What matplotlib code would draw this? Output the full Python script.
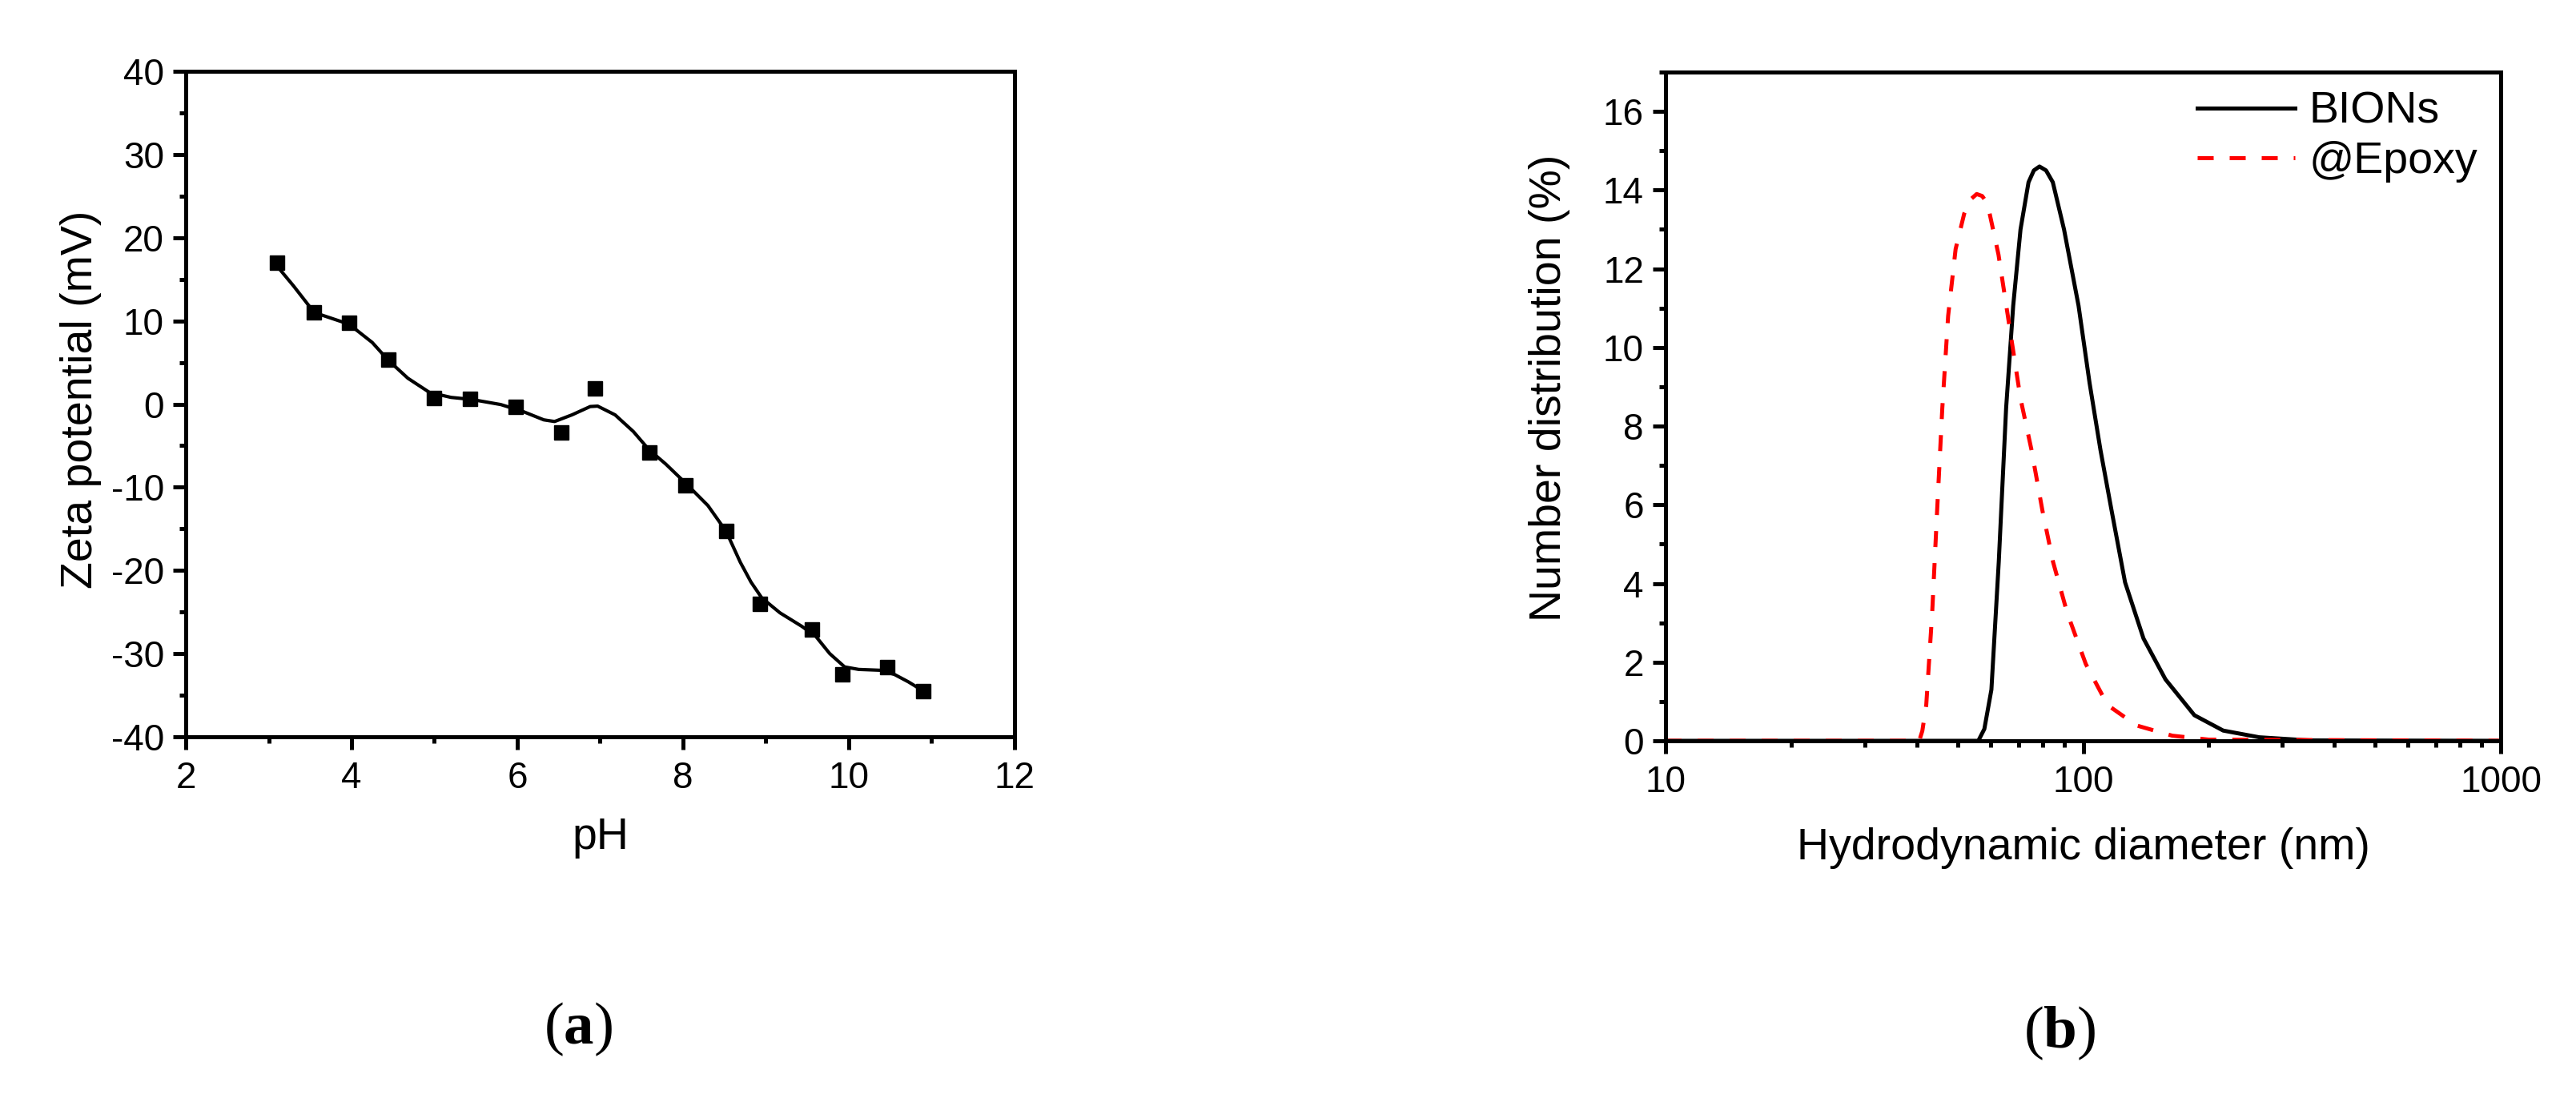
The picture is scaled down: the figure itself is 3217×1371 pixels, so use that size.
#!/usr/bin/env python3
"""Zeta potential vs pH (a) and DLS number distribution (b)."""
import matplotlib
matplotlib.use("Agg")
import matplotlib.pyplot as plt
from matplotlib.ticker import MultipleLocator, LogLocator, FixedLocator, NullFormatter

# (a) measured zeta potential points
PH = [3.10, 3.55, 3.97, 4.44, 5.00, 5.43, 5.98, 6.53, 6.94, 7.59, 8.03,
      8.52, 8.93, 9.56, 9.92, 10.46, 10.90]
ZETA = [17.0, 11.0, 9.8, 5.3, 0.7, 0.6, -0.3, -3.4, 1.9, -5.8, -9.8,
        -15.3, -24.0, -27.1, -32.5, -31.6, -34.5]

# (a) smoothed guide curve
CURVE_PH = [3.10, 3.30, 3.55, 3.97, 4.25, 4.44, 4.68, 4.94, 5.20, 5.45,
            5.80, 6.06, 6.32, 6.45, 6.66, 6.88, 6.97, 7.18, 7.40, 7.59,
            7.79, 8.03, 8.30, 8.52, 8.69, 8.82, 8.95, 9.17, 9.43, 9.60,
            9.77, 9.95, 10.12, 10.38, 10.55, 10.72, 10.90]
CURVE_ZETA = [16.6, 14.2, 11.0, 9.6, 7.4, 5.3, 3.1, 1.4, 0.8, 0.55,
              -0.06, -0.86, -1.9, -2.1, -1.3, -0.3, -0.25, -1.3, -3.3, -5.5,
              -7.2, -9.5, -12.2, -15.3, -19.0, -21.4, -23.3, -25.1, -26.7, -27.9,
              -30.0, -31.6, -31.9, -32.0, -32.5, -33.4, -34.5]

# (b) number distribution
BIONS_D = [10, 56.1, 58.0, 60.3, 62.8, 65.4, 68.0, 70.8, 74.0, 76.2, 78.6,
           81.5, 84.6, 90.0, 97.5, 103.6, 110, 117, 126, 139.5, 157.5, 184.7,
           216.5, 264, 348, 1000]
BIONS_N = [0, 0, 0.3, 1.3, 4.55, 8.46, 11.06, 13.0, 14.2, 14.5, 14.6,
           14.5, 14.2, 13.0, 11.06, 9.1, 7.4, 5.85, 4.03, 2.6, 1.56, 0.65,
           0.26, 0.09, 0.01, 0]
EPOXY_D = [10, 40.5, 41.2, 42.1, 43.5, 44.7, 46.0, 47.5, 49.5, 51.9, 53.6,
           55.6, 57.3, 59.0, 62.7, 66.6, 70.8, 75.2, 79.9, 84.7, 91.6, 101.5,
           114.4, 134.3, 163.5, 200, 1000]
EPOXY_N = [0, 0, 0.25, 0.91, 3.25, 5.85, 8.46, 10.8, 12.5, 13.4, 13.75,
           13.9, 13.85, 13.66, 12.36, 10.54, 8.7, 7.4, 5.85, 4.55, 3.25, 1.95,
           0.91, 0.39, 0.13, 0.03, 0]

plt.rcParams.update({
    "font.family": ["Liberation Sans", "DejaVu Sans"],
    "axes.unicode_minus": False,
    "axes.linewidth": 3.6,
    "xtick.major.width": 3.6,
    "ytick.major.width": 3.6,
    "xtick.minor.width": 3.6,
    "ytick.minor.width": 3.6,
    "xtick.major.size": 11.5,
    "ytick.major.size": 11.5,
    "xtick.minor.size": 6,
    "ytick.minor.size": 6,
    "xtick.major.pad": 10,
    "ytick.major.pad": 8,
    "xtick.labelsize": 33,
    "ytick.labelsize": 33,
    "axes.labelsize": 40,
    "mathtext.fontset": "custom",
    "mathtext.rm": "Liberation Serif",
    "mathtext.bf": "Liberation Serif:bold",
})

W, H = 3217, 1371
fig = plt.figure(figsize=(W / 100, H / 100), dpi=100)


def frac(x0, y0, x1, y1):
    return [x0 / W, 1 - y1 / H, (x1 - x0) / W, (y1 - y0) / H]


# ---- (a) ----
ax1 = fig.add_axes(frac(232, 89, 1267, 920))
ax1.plot(CURVE_PH, CURVE_ZETA, color="black", linewidth=3.0,
         solid_joinstyle="round", solid_capstyle="round")
ax1.plot(PH, ZETA, linestyle="none", marker="s", markersize=13, color="black")
ax1.set_xlim(2, 12)
ax1.set_ylim(-40, 40)
ax1.xaxis.set_major_locator(MultipleLocator(2))
ax1.xaxis.set_minor_locator(MultipleLocator(1))
ax1.yaxis.set_major_locator(MultipleLocator(10))
ax1.yaxis.set_minor_locator(MultipleLocator(5))
ax1.set_xlabel("pH")
ax1.set_ylabel("Zeta potential (mV)")
ax1.xaxis.set_label_coords(0.5, (920 - 1060) / 831)
ax1.xaxis.label.set_va("baseline")
ax1.yaxis.set_label_coords((115 - 232) / 1035, (920 - 499) / 831)
ax1.yaxis.label.set_va("baseline")

# ---- (b) ----
ax2 = fig.add_axes(frac(2080, 90, 3123, 925))
ax2.plot(BIONS_D, BIONS_N, color="black", linewidth=3.6, label="BIONs",
         solid_joinstyle="round")
ax2.plot(EPOXY_D, EPOXY_N, color="#ff0000", linewidth=3.6, dashes=(4, 4),
         label="@Epoxy")
ax2.set_xscale("log")
ax2.set_xlim(10, 1000)
ax2.set_ylim(0, 17)
ax2.xaxis.set_major_locator(FixedLocator([10, 100, 1000]))
ax2.set_xticklabels(["10", "100", "1000"])
ax2.xaxis.set_minor_locator(LogLocator(base=10, subs=range(2, 10)))
ax2.xaxis.set_minor_formatter(NullFormatter())
ax2.yaxis.set_major_locator(MultipleLocator(2))
ax2.yaxis.set_minor_locator(MultipleLocator(1))
ax2.set_xlabel("Hydrodynamic diameter (nm)")
ax2.set_ylabel("Number distribution (%)")
ax2.xaxis.set_label_coords(0.5, (925 - 1073) / 835)
ax2.xaxis.label.set_va("baseline")
ax2.yaxis.set_label_coords((1949 - 2080) / 1043, (925 - 484) / 835)
ax2.yaxis.label.set_va("baseline")
ax2.legend(loc="upper left", bbox_to_anchor=((2744 - 2080) / 1043, (925 - 114) / 835),
           frameon=False, fontsize=40, handlelength=2.2, handletextpad=0.32,
           labelspacing=0.18, borderpad=0, borderaxespad=0)

# panel captions
fig.text(722 / W, 1 - 1285 / H, r"($\mathbf{a}$)", fontsize=54, ha="center",
         va="center", family="Liberation Serif")
fig.text(2572 / W, 1 - 1290 / H, r"($\mathbf{b}$)", fontsize=54, ha="center",
         va="center", family="Liberation Serif")

fig.savefig("out.png", dpi=100)
